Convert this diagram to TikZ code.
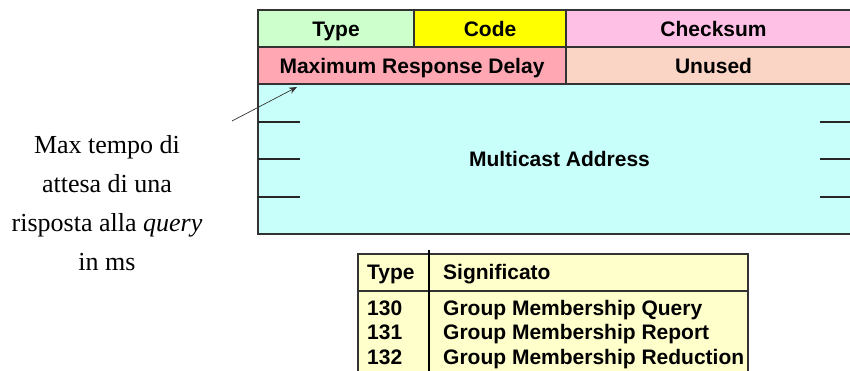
\documentclass[tikz,border=0pt]{standalone}
\usepackage{fontspec}
\setmainfont{Liberation Serif}
\setsansfont{Liberation Sans}
\usetikzlibrary{arrows.meta}

\definecolor{typeclr}{HTML}{CCFFCC}
\definecolor{codeclr}{HTML}{FFFF00}
\definecolor{sumclr}{HTML}{FFC0E6}
\definecolor{delayclr}{HTML}{FFA8B4}
\definecolor{unusedclr}{HTML}{FAD5C6}
\definecolor{addrclr}{HTML}{C8FFFA}
\definecolor{tableclr}{HTML}{FFFFCC}
\definecolor{edgeclr}{HTML}{333333}

\tikzset{
  cell/.style={draw=edgeclr, line width=1.3pt, rectangle, inner sep=0pt, outer sep=0pt,
    text height=15pt, text depth=0pt,
    font=\sffamily\bfseries\fontsize{21}{25}\selectfont},
  tick/.style={draw=black!85, line width=1.6pt},
  tabtext/.style={anchor=base west, inner sep=0pt, font=\sffamily\bfseries\fontsize{21}{24.5}\selectfont},
  note/.style={align=center, font=\fontsize{26}{39}\selectfont},
  pointer/.style={draw=black!80, line width=0.7pt, -{Stealth[length=8pt,width=6.5pt]}}
}

\begin{document}
\begin{tikzpicture}[x=1pt, y=-1pt]
  \clip (0,0) rectangle (850,370);
  \fill[white] (0,0) rectangle (850,370);

  % header fields
  \node[cell, fill=typeclr,   minimum width=156pt, minimum height=37pt]  (type)   at (336,28.5)   {Type};
  \node[cell, fill=codeclr,   minimum width=152pt, minimum height=37pt]  (code)   at (490,28.5)   {Code};
  \node[cell, fill=sumclr,    minimum width=295pt, minimum height=37pt]  (sum)    at (713.5,28.5) {Checksum};
  \node[cell, fill=delayclr,  minimum width=308pt, minimum height=37pt]  (delay)  at (412,65.5)   {Maximum Response Delay};
  \node[cell, fill=unusedclr, minimum width=295pt, minimum height=37pt]  (unused) at (713.5,65.5) {Unused};
  \node[cell, fill=addrclr,   minimum width=603pt, minimum height=150pt] (addr)   at (559.5,159)  {Multicast Address};

  % word separators inside the address field
  \foreach \dy in {38,75,113} {
    \draw[tick] (addr.north west) ++(0,\dy) -- ++(42,0);
    \draw[tick] (addr.north east) ++(0,\dy) -- ++(-41,0);
  }

  % note on the delay field
  \node[note] (txt) at (107,203) {Max tempo di\\attesa di una\\risposta alla \textit{query}\\in ms};
  \coordinate (tail) at (232,121);
  \coordinate (head) at (297,87);
  \draw[pointer] (tail) -- (head);

  % type codes table
  \node[draw=edgeclr, line width=1.3pt, fill=tableclr, rectangle, inner sep=0pt,
        minimum width=390pt, minimum height=126pt] (tab) at (553,317) {};
  \draw[draw=edgeclr, line width=1.3pt] (tab.west |- 0,291) -- (tab.east |- 0,291);
  \draw[draw=black, line width=1.3pt] (429,250) -- (429,380);
  \node[tabtext] (h1) at (367,279) {Type};
  \node[tabtext] (h2) at (443,279) {Significato};
  \node[tabtext] (n1) at (367,315) {130};
  \node[tabtext] (m1) at (443,315) {Group Membership Query};
  \node[tabtext] (n2) at (367,339.5) {131};
  \node[tabtext] (m2) at (443,339.5) {Group Membership Report};
  \node[tabtext] (n3) at (367,364) {132};
  \node[tabtext] (m3) at (443,364) {Group Membership Reduction};
\end{tikzpicture}
\end{document}
